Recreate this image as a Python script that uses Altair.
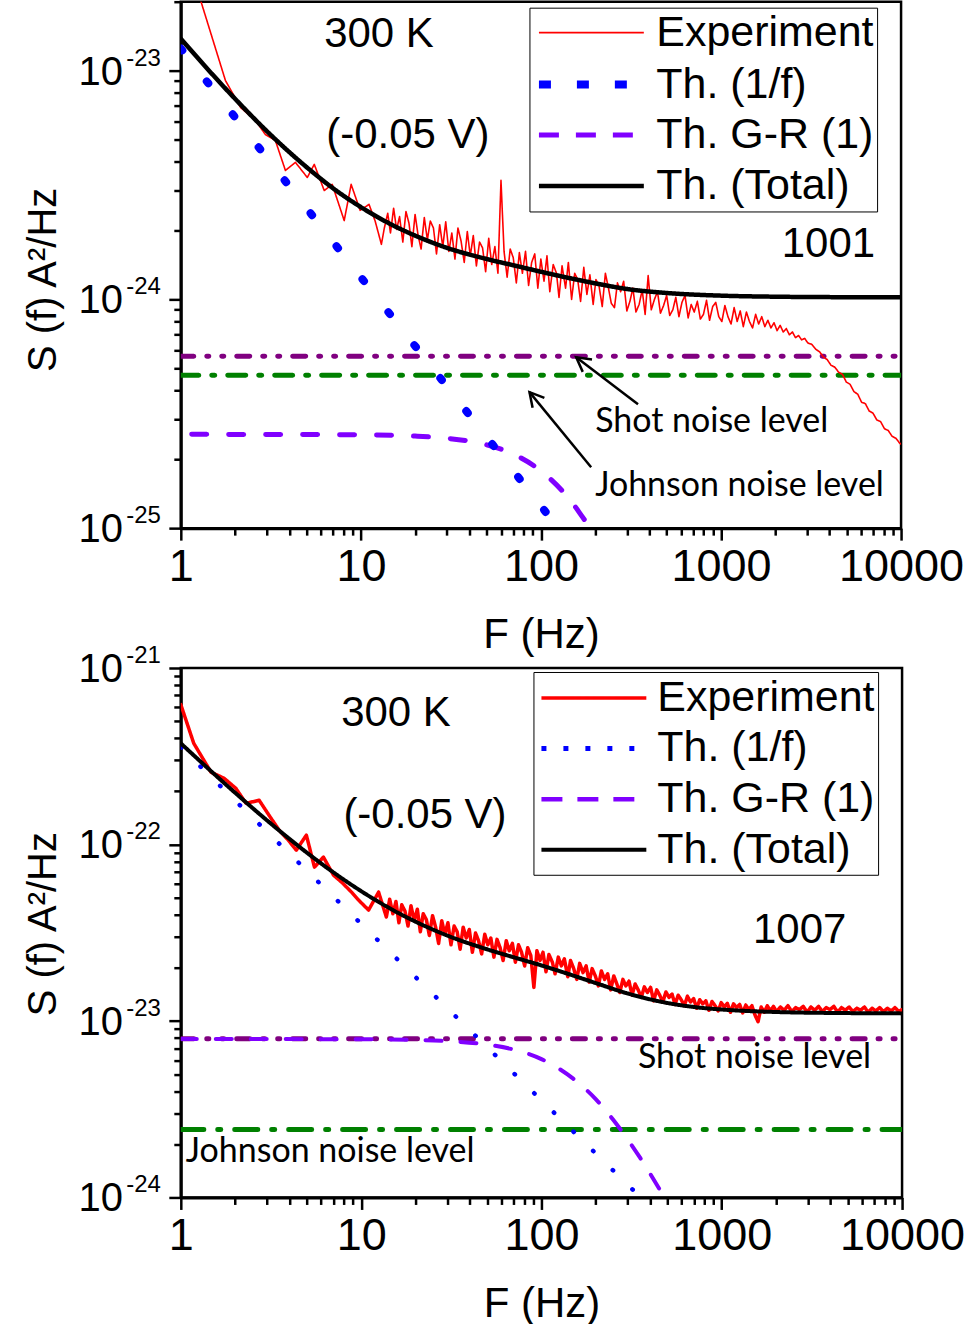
import altair as alt
import pandas as pd

FONT = "Liberation Sans"
NOTE_FONT = "Lato"

SERIES = ["Experiment", "Th. (1/f)", "Th. G-R (1)", "Th. (Total)"]
SERIES_COLORS = ["#ff0000", "#0000ff", "#8000ff", "#000000"]
SHOT_COLOR = "#800080"
JOHNSON_COLOR = "#008000"

# ---------------- Sample 1001 (values in units of 1e-24 A^2/Hz) ----------------
top_exp_f = [1, 1.29, 1.77, 2.15, 2.6, 2.95, 3.35, 3.81, 4.33, 5.04,
             5.51, 6.26, 6.93, 8.08, 8.83, 9.9, 11.1, 12.0, 13.0, 13.5,
             14.1, 14.6, 15.2, 15.8, 16.4, 17.1, 17.8, 18.5, 19.2, 20.0,
             20.8, 21.6, 22.5, 23.4, 24.3, 25.3, 26.3, 27.4, 28.5, 29.6,
             30.8, 32.0, 33.3, 34.6, 36.0, 37.5, 39.0, 40.5, 42.1, 43.8,
             45.6, 47.4, 49.3, 51.3, 53.3, 55.5, 57.7, 60.0, 62.4, 64.9,
             67.5, 70.2, 73.0, 75.9, 78.9, 82.1, 85.4, 88.8, 92.4, 96.1,
             99.9, 104, 108, 112, 117, 122, 126, 131, 137, 142,
             148, 154, 160, 166, 173, 180, 187, 195, 202, 210,
             219, 228, 237, 246, 256, 266, 277, 288, 300, 312,
             324, 337, 351, 365, 379, 394, 410, 427, 444, 461,
             480, 499, 519, 540, 561, 584, 607, 631, 657, 683,
             710, 739, 768, 799, 831, 864, 899, 935, 972, 1011,
             1051, 1093, 1137, 1183, 1230, 1279, 1330, 1384, 1439, 1497,
             1557, 1619, 1684, 1751, 1821, 1894, 1970, 2049, 2131, 2216,
             2305, 2397, 2493, 2592, 2696, 2804, 2916, 3033, 3200, 3360,
             3528, 3705, 3890, 4084, 4289, 4503, 4728, 4965, 5213, 5474,
             5747, 6035, 6336, 6653, 6986, 7335, 7702, 8087, 8491, 8916,
             9362, 9830, 10000]
top_exp_v = [38, 20.2, 9.04, 6.89, 6.05, 5.25, 4.95, 3.66, 3.97, 3.41,
             3.89, 2.99, 3.18, 2.21, 3.18, 2.45, 2.60, 2.20, 1.74, 2.05,
             2.38, 1.95, 2.50, 2.02, 2.30, 1.78, 2.42, 2.15, 1.70, 2.35,
             1.90, 1.66, 2.28, 1.82, 2.20, 2.05, 1.58, 2.12, 1.70, 2.18,
             1.62, 1.95, 1.50, 2.05, 1.80, 1.45, 1.98, 1.55, 1.90, 1.40,
             1.78, 1.68, 1.32, 1.85, 1.42, 1.70, 1.30, 3.31, 1.62, 1.25,
             1.66, 1.52, 1.18, 1.60, 1.30, 1.62, 1.15, 1.45, 1.58, 1.12,
             1.50, 1.20, 1.55, 1.08, 1.42, 1.30, 1.02, 1.40, 1.12, 1.45,
             1.00, 1.30, 1.22, 0.98, 1.38, 1.05, 1.28, 0.95, 1.22, 1.15,
             0.93, 1.30, 1.12, 0.96, 0.92, 1.18, 1.08, 1.20, 0.89, 0.98,
             1.12, 0.88, 0.95, 1.10, 0.86, 1.27, 0.90, 1.00, 1.08, 0.87,
             0.94, 1.04, 0.85, 0.90, 1.02, 0.84, 0.97, 1.04, 0.83, 0.95,
             0.88, 0.98, 0.82, 0.86, 0.99, 0.81, 0.93, 0.97, 0.84, 0.80,
             0.94, 0.84, 0.78, 0.92, 0.80, 0.89, 0.76, 0.88, 0.80, 0.75,
             0.86, 0.78, 0.84, 0.76, 0.81, 0.75, 0.79, 0.73, 0.77, 0.72,
             0.745, 0.70, 0.72, 0.68, 0.695, 0.665, 0.675, 0.645, 0.635, 0.605,
             0.59, 0.56, 0.545, 0.515, 0.505, 0.48, 0.47, 0.435, 0.425, 0.395,
             0.385, 0.355, 0.35, 0.325, 0.318, 0.297, 0.292, 0.272, 0.267, 0.252,
             0.247, 0.235, 0.233]

top_1f_f = [1, 125]
top_1f_v = [12.5, 0.1]

top_gr_f = [1.15, 10, 20, 30, 50, 70, 100, 130, 150, 170, 185, 200]
top_gr_v = [0.257, 0.2559, 0.2525, 0.2471, 0.2313, 0.211, 0.1779, 0.1468,
            0.1285, 0.112, 0.1019, 0.0925]

top_tot_f = [1, 1.5, 2, 3, 5, 7, 10, 15, 20, 30, 50, 70, 100, 150, 200, 300,
             500, 1000, 2000, 5000, 10000]
top_tot_v = [13.78, 9.61, 7.53, 5.44, 3.78, 3.06, 2.53, 2.11, 1.90, 1.68, 1.50,
             1.41, 1.32, 1.23, 1.175, 1.11, 1.066, 1.038, 1.027, 1.022, 1.021]

top_shot = 0.564
top_johnson = 0.466

# ---------------- Sample 1007 (values in units of 1e-23 A^2/Hz) ----------------
bot_exp_f = [1, 1.18, 1.47, 1.74, 2.02, 2.30, 2.72, 3.09, 3.51, 3.94,
             4.37, 4.97, 5.51, 6.18, 7.03, 7.79, 8.85, 9.68, 11.0, 12.5,
             13.8, 14.4, 15.0, 15.6, 16.2, 16.8, 17.5, 18.2, 18.9, 19.7,
             20.5, 21.3, 22.1, 23.0, 23.9, 24.9, 25.9, 26.9, 28.0, 29.1,
             30.3, 31.5, 32.8, 34.1, 35.4, 36.8, 38.3, 39.8, 41.4, 43.1,
             44.8, 46.6, 48.5, 50.4, 52.4, 54.5, 56.7, 59.0, 61.3, 63.8,
             66.3, 69.0, 71.7, 74.6, 77.6, 80.7, 83.9, 87.3, 90.8, 94.4,
             98.2, 102, 106, 110, 115, 119, 124, 129, 134, 140,
             145, 151, 157, 163, 170, 177, 184, 191, 199, 207,
             215, 224, 233, 242, 252, 262, 272, 283, 294, 306,
             318, 331, 344, 358, 372, 387, 403, 419, 436, 453,
             471, 490, 510, 530, 551, 573, 596, 620, 645, 671,
             698, 726, 755, 785, 816, 849, 883, 918, 955, 993,
             1033, 1074, 1117, 1162, 1208, 1257, 1307, 1359, 1414, 1470,
             1529, 1590, 1654, 1720, 1789, 1861, 1935, 2013, 2113, 2219,
             2330, 2446, 2569, 2697, 2832, 2974, 3122, 3278, 3442, 3614,
             3795, 3985, 4184, 4393, 4613, 4844, 5086, 5340, 5607, 5888,
             6182, 6491, 6816, 7157, 7515, 7890, 8285, 8699, 9134, 9591,
             10000]
bot_exp_v = [62, 37.4, 25.7, 23.7, 20.8, 17.1, 17.8, 14.6, 12.05, 10.6,
             9.28, 11.3, 7.44, 8.48, 6.70, 6.12, 5.37, 4.84, 4.25, 5.37,
             3.88, 4.9, 4.05, 4.75, 3.6, 4.55, 4.2, 3.45, 4.5, 3.7,
             4.3, 3.2, 4.05, 3.75, 3.05, 3.95, 3.4, 2.75, 3.7, 3.1,
             3.6, 2.7, 3.45, 3.2, 2.55, 3.4, 2.95, 3.3, 2.45, 3.15,
             2.85, 2.4, 3.1, 2.7, 2.95, 2.3, 2.9, 2.6, 2.2, 2.85,
             2.5, 2.75, 2.15, 2.7, 2.45, 2.05, 2.6, 2.35, 1.55, 2.5,
             2.2, 2.45, 1.9, 2.38, 2.15, 1.85, 2.3, 2.05, 2.25, 1.78,
             2.2, 1.98, 1.72, 2.12, 1.88, 2.05, 1.66, 1.98, 1.8, 1.58,
             1.92, 1.72, 1.85, 1.5, 1.8, 1.62, 1.45, 1.72, 1.58, 1.68,
             1.4, 1.62, 1.5, 1.36, 1.56, 1.45, 1.55, 1.3, 1.5, 1.4,
             1.28, 1.46, 1.36, 1.42, 1.24, 1.4, 1.32, 1.22, 1.38, 1.28,
             1.34, 1.18, 1.32, 1.25, 1.3, 1.15, 1.29, 1.22, 1.14, 1.27,
             1.2, 1.26, 1.12, 1.25, 1.19, 1.24, 1.11, 1.23, 1.16, 1.22,
             1.08, 0.99, 1.2, 1.12, 1.22, 1.14, 1.21, 1.13, 1.2, 1.15,
             1.22, 1.13, 1.19, 1.16, 1.21, 1.12, 1.2, 1.15, 1.21, 1.13,
             1.19, 1.16, 1.21, 1.12, 1.19, 1.15, 1.2, 1.13, 1.18, 1.15,
             1.2, 1.12, 1.18, 1.14, 1.19, 1.13, 1.18, 1.14, 1.19, 1.13,
             1.16]

bot_1f_f = [1, 355]
bot_1f_v = [35.5, 0.1]

bot_gr_f = [1, 10, 20, 30, 50, 70, 100, 150, 200, 250, 300, 350, 400, 450, 500]
bot_gr_v = [0.79, 0.788, 0.781, 0.769, 0.735, 0.689, 0.608, 0.471, 0.361,
            0.2756, 0.214, 0.1696, 0.1367, 0.1121, 0.0933]

bot_tot_f = [1, 1.5, 2, 3, 5, 7, 10, 15, 20, 30, 50, 70, 100, 150, 200, 300,
             500, 700, 1000, 2000, 5000, 10000]
bot_tot_v = [37.4, 25.56, 19.64, 13.72, 8.99, 6.96, 5.44, 4.25, 3.656, 3.05,
             2.545, 2.296, 2.063, 1.808, 1.639, 1.432, 1.264, 1.20, 1.161,
             1.124, 1.108, 1.104]

bot_shot = 0.794
bot_johnson = 0.243

assert len(top_exp_f) == len(top_exp_v), (len(top_exp_f), len(top_exp_v))
assert len(bot_exp_f) == len(bot_exp_v), (len(bot_exp_f), len(bot_exp_v))

X_TICKS = [m * d for d in (1, 10, 100, 1000) for m in range(1, 10)] + [10000]
IS_DECADE = "abs(log(datum.value) / LN10 - round(log(datum.value) / LN10)) < 0.01"
ARROW_HEAD = "M -0.55 1 L 0 0 L 0.55 1"
# legend key: a horizontal stroke 2.5x the symbol radius on each side
KEY_STROKE = "M -2.5 0 L 2.5 0"


def curve(f, v, unit):
    return pd.DataFrame({"f": f, "S": [x * unit for x in v]})


def level(value, unit):
    return pd.DataFrame({"f": [1, 10000], "S": [value * unit, value * unit]})


def panel(cfg):
    unit = cfg["unit"]
    xs = alt.Scale(type="log", domain=[1, 10000], nice=False)
    ys = alt.Scale(type="log", domain=cfg["ydomain"], nice=False)
    xaxis = alt.Axis(
        values=X_TICKS, title="F (Hz)", grid=False,
        labelExpr="indexof([1, 10, 100, 1000, 10000], datum.value) >= 0 ? format(datum.value, 'd') : ''",
        labelFont=FONT, labelFontSize=45, labelColor="black", labelPadding=4,
        labelFlush=False, labelOverlap=False, labelBound=False,
        tickSize={"condition": {"test": IS_DECADE, "value": 12}, "value": 7},
        tickWidth=2.5, tickColor="black", domainWidth=3, domainColor="black",
        titleFont=FONT, titleFontSize=42, titleFontWeight="normal",
        titleColor="black", titlePadding=25)
    yaxis = alt.Axis(
        values=cfg["yticks"], title="S (f) A²/Hz", grid=False, labels=False,
        tickSize={"condition": {"test": IS_DECADE, "value": 12}, "value": 7},
        tickWidth=2.5, tickColor="black", domainWidth=3, domainColor="black",
        titleFont=FONT, titleFontSize=40, titleFontWeight="normal",
        titleColor="black", titlePadding=104, titleY=cfg["ytitle_y"])

    X = alt.X("f:Q", scale=xs, axis=xaxis)
    Y = alt.Y("S:Q", scale=ys, axis=yaxis)

    def styled_line(df, style, interp="linear"):
        color, width, dash = style
        return alt.Chart(df).mark_line(
            clip=True, color=color, strokeWidth=width, strokeDash=dash,
            strokeCap="round", strokeJoin="round", interpolate=interp
        ).encode(x=X, y=Y)

    st = cfg["styles"]
    layers = [
        styled_line(level(cfg["shot"], unit), (SHOT_COLOR, 5, [13, 13, 2, 13, 2, 13])),
        styled_line(level(cfg["johnson"], unit), (JOHNSON_COLOR, 5, cfg["johnson_dash"])),
        styled_line(curve(*cfg["gr"], unit), st[2], "monotone"),
        styled_line(curve(*cfg["exp"], unit), st[0]),
        styled_line(curve(*cfg["of"], unit), st[1]),
        styled_line(curve(*cfg["tot"], unit), st[3], "monotone"),
    ]

    # legend keyed by series name; its layer sits left of the plotted range
    leg = alt.Legend(
        title=None, orient="none", legendX=cfg["legend_xy"][0],
        legendY=cfg["legend_xy"][1], symbolType=KEY_STROKE,
        symbolSize=42 ** 2, symbolOffset=34, labelOffset=40,
        labelFont=FONT, labelFontSize=43, labelColor="black",
        labelExpr="datum.label + '\u00a0\u00a0'",
        labelLimit=500, rowPadding=5, padding=3,
        strokeColor="black", fillColor="white", cornerRadius=0)
    key = pd.DataFrame({"f": [1e-3, 2e-3] * 4,
                        "S": [cfg["ydomain"][0] * 2] * 8,
                        "series": [s for s in SERIES for _ in range(2)]})
    layers.append(alt.Chart(key).mark_line(clip=True).encode(
        x=X, y=Y,
        color=alt.Color("series:N", scale=alt.Scale(domain=SERIES, range=SERIES_COLORS), legend=leg),
        strokeDash=alt.StrokeDash("series:N", scale=alt.Scale(domain=SERIES, range=cfg["legend_dashes"]), legend=leg),
        strokeWidth=alt.StrokeWidth("series:N", scale=alt.Scale(type="ordinal", domain=SERIES, range=cfg["legend_widths"]), legend=leg),
    ))

    # tick labels on the S axis: "10" with a raised exponent
    ylab = pd.DataFrame({"S": cfg["ylabels"], "base": "10", "exp": cfg["yexps"]})
    layers.append(alt.Chart(ylab).mark_text(
        align="right", baseline="middle", font=FONT, fontSize=40, dy=2,
        color="black").encode(y=Y, x=alt.value(-58), text="base:N"))
    layers.append(alt.Chart(ylab).mark_text(
        align="right", baseline="middle", font=FONT, fontSize=24, dy=-12,
        color="black").encode(y=Y, x=alt.value(-20), text="exp:N"))

    notes = pd.DataFrame(cfg["notes"], columns=["f", "S", "text"])
    layers.append(alt.Chart(notes).mark_text(
        align="center", baseline="middle", font=FONT, fontSize=42,
        color="black").encode(x=X, y=Y, text="text:N"))

    lv = pd.DataFrame(cfg["levels"], columns=["f", "S", "text"])
    layers.append(alt.Chart(lv).mark_text(
        align="left", baseline="middle", font=NOTE_FONT, fontSize=34,
        color="black").encode(x=X, y=Y, text="text:N"))

    if cfg.get("arrows"):
        arr = pd.DataFrame(cfg["arrows"], columns=["f0", "S0", "f1", "S1", "ang"])
        layers.append(alt.Chart(arr).mark_rule(strokeWidth=2.5, color="black").encode(
            x=alt.X("f0:Q", scale=xs, axis=xaxis), y=alt.Y("S0:Q", scale=ys, axis=yaxis),
            x2="f1:Q", y2="S1:Q"))
        layers.append(alt.Chart(arr).mark_point(
            shape=ARROW_HEAD, filled=False, size=784, strokeWidth=2.5,
            color="black", opacity=1).encode(
            x=alt.X("f1:Q", scale=xs, axis=xaxis), y=alt.Y("S1:Q", scale=ys, axis=yaxis),
            angle=alt.Angle("ang:Q", scale=None)))

    return alt.layer(*layers).properties(width=cfg["width"], height=cfg["height"])


U1 = 1e-24
top_cfg = dict(
    unit=U1, ydomain=[1e-25, 2e-23], width=721, height=527,
    yticks=[m * d for d in (1e-25, 1e-24) for m in range(1, 10)] + [1e-23, 2e-23],
    ylabels=[1e-25, 1e-24, 1e-23], yexps=["-25", "-24", "-23"],
    ytitle_y=278,
    legend_xy=(349, 6),
    styles=[("#ff0000", 1.6, [1, 0]), ("#0000ff", 8, [2.5, 39.5]),
            ("#8000ff", 5, [15, 22]), ("#000000", 4.5, [1, 0])],
    legend_dashes=[[1, 0], [12, 26], [20, 17], [1, 0]],
    legend_widths=[1.6, 8, 5, 4.5],
    johnson_dash=[18, 13, 3, 13],
    shot=top_shot, johnson=top_johnson,
    exp=(top_exp_f, top_exp_v), of=(top_1f_f, top_1f_v),
    gr=(top_gr_f, top_gr_v), tot=(top_tot_f, top_tot_v),
    notes=[(12.6, 14.5 * U1, "300 K"), (18.25, 5.25 * U1, "(-0.05 V)"),
           (3947, 1.74 * U1, "1001")],
    levels=[(200, 0.290 * U1, "Shot noise level"),
            (200, 0.1526 * U1, "Johnson noise level")],
    arrows=[(346, 0.348 * U1, 157, 0.558 * U1, 307),
            (190, 0.1847 * U1, 86.4, 0.393 * U1, 320)],
)

U2 = 1e-23
bot_cfg = dict(
    unit=U2, ydomain=[1e-24, 1e-21], width=722, height=530,
    yticks=[m * d for d in (1e-24, 1e-23, 1e-22) for m in range(1, 10)] + [1e-21],
    ylabels=[1e-24, 1e-23, 1e-22, 1e-21], yexps=["-24", "-23", "-22", "-21"],
    ytitle_y=256,
    legend_xy=(353, 4),
    styles=[("#ff0000", 3.5, [1, 0]), ("#0000ff", 4.5, [0.5, 27]),
            ("#8000ff", 4, [16, 19]), ("#000000", 4, [1, 0])],
    legend_dashes=[[1, 0], [5, 17], [21, 15], [1, 0]],
    legend_widths=[3.5, 5, 4.5, 4],
    johnson_dash=[23, 14, 3, 14],
    shot=bot_shot, johnson=bot_johnson,
    exp=(bot_exp_f, bot_exp_v), of=(bot_1f_f, bot_1f_v),
    gr=(bot_gr_f, bot_gr_v), tot=(bot_tot_f, bot_tot_v),
    notes=[(15.6, 55.4 * U2, "300 K"), (22.6, 14.65 * U2, "(-0.05 V)"),
           (2703, 3.27 * U2, "1007")],
    levels=[(343, 0.617 * U2, "Shot noise level"),
            (1.066, 0.1815 * U2, "Johnson noise level")],
)

chart = alt.vconcat(panel(top_cfg), panel(bot_cfg), spacing=140, bounds="flush").resolve_scale(
    x="independent", y="independent", color="independent",
    strokeDash="independent", strokeWidth="independent",
).properties(
    padding={"left": 22, "top": -2, "right": 0, "bottom": 0},
    background="white",
).configure_view(stroke="black", strokeWidth=2.5)

chart.save("out.html", embed_options={"renderer": "svg", "actions": False})
